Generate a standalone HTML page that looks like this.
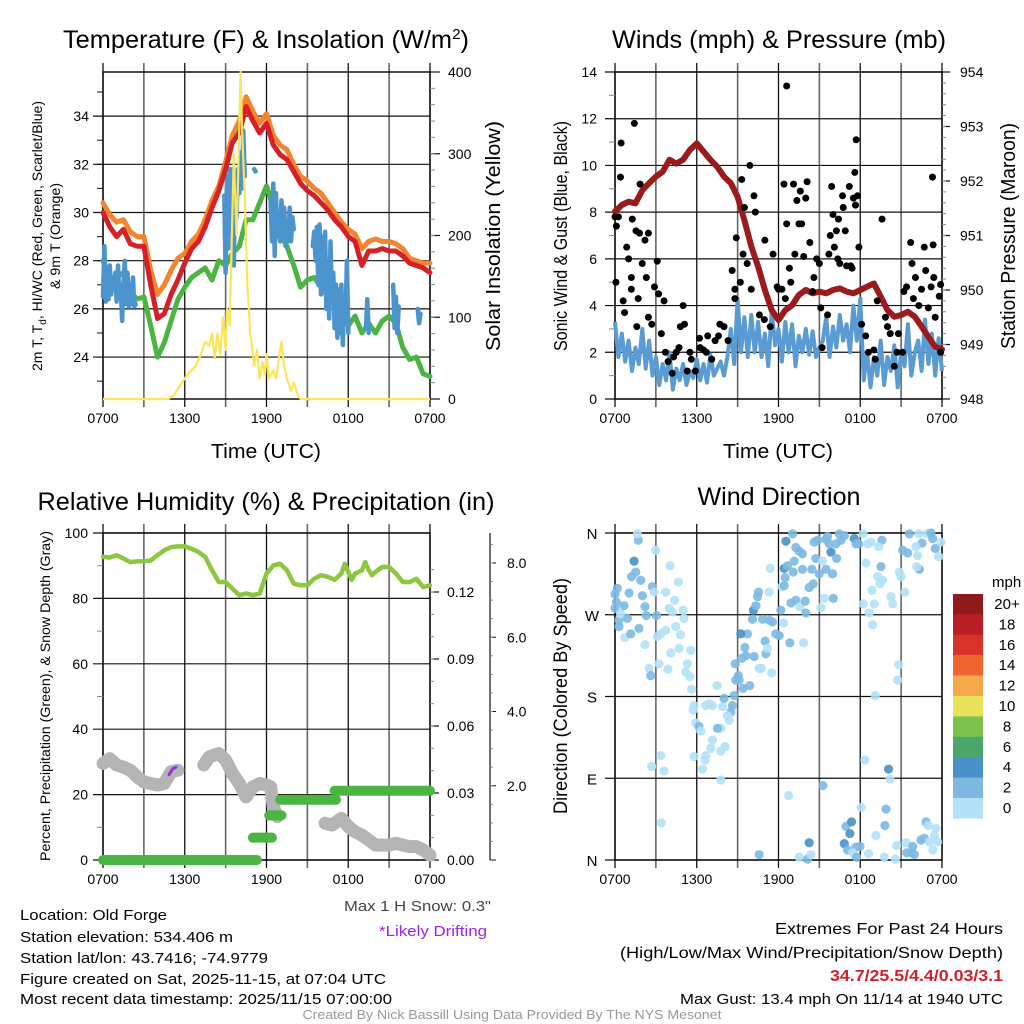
<!DOCTYPE html>
<html><head><meta charset="utf-8">
<style>
html,body{margin:0;padding:0;background:#fff;}
svg{display:block;font-family:"Liberation Sans",Arial,sans-serif;}
</style></head>
<body>
<svg id="chart" xmlns="http://www.w3.org/2000/svg" width="1024" height="1024" viewBox="0 0 1024 1024">
<rect x="0" y="0" width="1024" height="1024" fill="#fff"/>
<g id="layer"></g>
<text x="266" y="48" font-size="25" text-anchor="middle" textLength="406" lengthAdjust="spacingAndGlyphs">Temperature (F) &amp; Insolation (W/m<tspan dy="-9" font-size="15">2</tspan><tspan dy="9">)</tspan></text>
<text x="779" y="48" font-size="25" text-anchor="middle" textLength="334" lengthAdjust="spacingAndGlyphs">Winds (mph) &amp; Pressure (mb)</text>
<text x="266" y="510" font-size="25" text-anchor="middle" textLength="457" lengthAdjust="spacingAndGlyphs">Relative Humidity (%) &amp; Precipitation (in)</text>
<text x="779" y="505" font-size="25" text-anchor="middle" textLength="163" lengthAdjust="spacingAndGlyphs">Wind Direction</text>
<text x="266" y="458" font-size="20" text-anchor="middle" textLength="110" lengthAdjust="spacingAndGlyphs">Time (UTC)</text>
<text x="778" y="458" font-size="20" text-anchor="middle" textLength="110" lengthAdjust="spacingAndGlyphs">Time (UTC)</text>
<text transform="translate(42,236) rotate(-90)" font-size="14" text-anchor="middle" textLength="270" lengthAdjust="spacingAndGlyphs">2m T, T<tspan dy="4" font-size="10">d</tspan><tspan dy="-4">, HI/WC (Red, Green, Scarlet/Blue)</tspan></text>
<text transform="translate(60,236) rotate(-90)" font-size="14" text-anchor="middle" textLength="106" lengthAdjust="spacingAndGlyphs">&amp; 9m T (Orange)</text>
<text transform="translate(500,236) rotate(-90)" font-size="20" text-anchor="middle" textLength="230" lengthAdjust="spacingAndGlyphs">Solar Insolation (Yellow)</text>
<text transform="translate(567,236) rotate(-90)" font-size="18" text-anchor="middle" textLength="230" lengthAdjust="spacingAndGlyphs">Sonic Wind &amp; Gust (Blue, Black)</text>
<text transform="translate(1015,236) rotate(-90)" font-size="20" text-anchor="middle" textLength="226" lengthAdjust="spacingAndGlyphs">Station Pressure (Maroon)</text>
<text transform="translate(50,696) rotate(-90)" font-size="14" text-anchor="middle" textLength="330" lengthAdjust="spacingAndGlyphs">Percent, Precipitation (Green), &amp; Snow Depth (Gray)</text>
<text transform="translate(567,696) rotate(-90)" font-size="19" text-anchor="middle" textLength="236" lengthAdjust="spacingAndGlyphs">Direction (Colored By Speed)</text>
<text x="992" y="587" font-size="15">mph</text>
<text x="491" y="911" font-size="15" fill="#444" text-anchor="end" textLength="147" lengthAdjust="spacingAndGlyphs">Max 1 H Snow: 0.3"</text>
<text x="487" y="936" font-size="15" fill="#a020f0" text-anchor="end" textLength="108" lengthAdjust="spacingAndGlyphs">*Likely Drifting</text>
<text x="20" y="920" font-size="15" textLength="147" lengthAdjust="spacingAndGlyphs">Location: Old Forge</text>
<text x="20" y="942" font-size="15" textLength="213" lengthAdjust="spacingAndGlyphs">Station elevation: 534.406 m</text>
<text x="20" y="963" font-size="15" textLength="248" lengthAdjust="spacingAndGlyphs">Station lat/lon: 43.7416; -74.9779</text>
<text x="20" y="984" font-size="15" textLength="366" lengthAdjust="spacingAndGlyphs">Figure created on Sat, 2025-11-15, at 07:04 UTC</text>
<text x="20" y="1004" font-size="15" textLength="372" lengthAdjust="spacingAndGlyphs">Most recent data timestamp: 2025/11/15 07:00:00</text>
<text x="1003" y="934" font-size="16" text-anchor="end" textLength="228" lengthAdjust="spacingAndGlyphs">Extremes For Past 24 Hours</text>
<text x="1003" y="958" font-size="16" text-anchor="end" textLength="383" lengthAdjust="spacingAndGlyphs">(High/Low/Max Wind/Precipitation/Snow Depth)</text>
<text x="1003" y="981" font-size="16" font-weight="bold" fill="#d0202a" text-anchor="end" textLength="173" lengthAdjust="spacingAndGlyphs">34.7/25.5/4.4/0.03/3.1</text>
<text x="1003" y="1004" font-size="15" text-anchor="end" textLength="323" lengthAdjust="spacingAndGlyphs">Max Gust: 13.4 mph On 11/14 at 1940 UTC</text>
<text x="512" y="1019" font-size="13" fill="#999" text-anchor="middle" textLength="419" lengthAdjust="spacingAndGlyphs">Created By Nick Bassill Using Data Provided By The NYS Mesonet</text>
</svg>
<script>
const timeTickLabels = ["0700","1300","1900","0100","0700"];
const halfHours = [0,0.5,1,1.5,2,2.5,3,3.5,4,4.5,5,5.5,6,6.5,7,7.5,8,8.5,9,9.5,10,10.5,11,11.5,12,12.5,13,13.5,14,14.5,15,15.5,16,16.5,17,17.5,18,18.5,19,19.5,20,20.5,21,21.5,22,22.5,23,23.5,24];
const tempRed = [30.0,29.4,29.0,29.3,28.7,28.6,28.6,27.0,25.6,25.8,26.6,27.2,27.9,28.5,28.8,29.4,30.2,30.9,31.8,32.9,33.3,34.4,33.8,33.3,33.7,32.8,32.4,32.2,31.7,31.2,30.9,30.7,30.4,30.1,29.7,29.4,29.0,28.8,27.8,28.4,28.4,28.5,28.4,28.4,28.2,27.9,27.8,27.7,27.5];
const tempOrange = [30.4,29.9,29.6,29.7,29.2,29.0,29.0,27.6,26.6,27.0,27.6,28.1,28.3,28.8,29.1,29.7,30.5,31.1,32.1,33.2,33.8,34.8,34.2,33.7,34.1,33.2,32.8,32.6,32.0,31.5,31.3,31.0,30.8,30.4,30.0,29.6,29.3,29.1,28.5,28.8,28.9,28.8,28.8,28.7,28.5,28.1,28.0,27.9,27.9];
const dewGreen = [28.0,27.3,27.3,27.5,26.7,26.4,26.5,25.3,24.0,24.6,25.5,26.4,26.9,27.3,27.5,27.7,27.2,28.0,27.8,28.3,28.6,29.7,29.7,30.4,31.1,30.2,29.1,28.6,27.8,26.9,27.2,27.3,26.9,26.5,26.4,26.1,25.3,25.7,25.0,25.4,25.0,25.5,25.7,25.4,24.4,23.9,24.0,23.3,23.2];
const chillTimes = [0,0.1,0.2,0.3,0.4,0.5,0.6,0.7,0.8,0.9,1.0,1.1,1.2,1.3,1.4,1.5,1.6,1.7,1.8,1.9,2.0,2.1,2.2,2.3,2.4,null,8.9,9.0,9.1,9.2,9.3,9.4,9.5,9.6,9.7,9.8,9.9,10.0,10.1,10.2,10.3,10.4,null,11.1,11.2,null,12.3,12.4,12.5,12.6,12.7,12.8,12.9,13.0,13.1,13.2,13.3,13.4,13.5,13.6,13.7,13.8,13.9,14.0,null,15.4,15.5,15.6,15.7,15.8,15.9,16.0,16.1,16.2,16.3,16.4,16.5,16.6,16.7,16.8,16.9,17.0,17.1,17.2,17.3,17.4,17.5,17.6,17.7,17.8,17.9,18.0,null,19.3,19.4,19.5,null,21.3,21.4,21.5,21.6,21.7,null,23.1,23.2,23.3];
const chillBlue = [26.5,28.6,26.3,27.5,26.4,27.8,26.6,27.2,26.9,27.5,26.3,27.8,26.5,27.0,25.5,27.0,28.0,26.2,27.5,26.1,26.2,26.6,27.3,26.1,26.2,null,30.7,27.5,31.5,28.5,31.8,29.0,31.8,27.8,31.5,29.8,31.8,30.8,32.5,31.0,33.4,31.5,null,31.8,31.7,null,30.5,28.8,31.2,28.2,30.8,29.0,29.5,28.8,30.5,29.0,30.2,28.6,29.6,28.8,30.2,28.8,29.8,29.3,null,28.6,29.2,28.0,29.4,27.0,29.5,26.6,29.0,27.0,29.2,26.0,28.0,25.6,28.8,26.3,27.5,25.2,27.0,24.8,26.8,25.0,27.0,24.5,26.5,25.4,28.0,25.0,null,25.2,26.4,25.0,null,27.0,25.2,26.5,25.0,26.1,null,26.0,25.4,25.8];
const solarTimes = [0,4.8,5.2,5.8,6.2,6.8,7.2,7.5,7.8,8.0,8.2,8.4,8.6,8.8,9.0,9.1,9.3,9.4,9.6,9.8,9.9,10.1,10.2,10.4,10.6,10.8,10.9,11.1,11.3,11.5,11.7,11.9,12.0,12.2,12.5,12.7,12.9,13.1,13.3,13.5,13.8,14.0,14.3,14.5,24];
const solarVals = [0,0,5,20,30,40,55,70,65,80,50,80,55,100,60,110,90,160,300,200,260,400,330,250,140,80,70,40,60,25,45,30,55,25,35,25,50,70,40,25,10,20,5,0,0];
const pressTicks = [948,949,950,951,952,953,954];
const windTicks = [0,2,4,6,8,10,12,14];
const pressure = [951.44,951.56,951.62,951.59,951.83,951.96,952.08,952.17,952.39,952.32,952.39,952.57,952.69,952.54,952.39,952.26,952.08,951.96,951.71,951.28,950.80,950.43,950.00,949.63,949.45,949.63,949.72,949.91,950.00,949.94,949.97,949.94,950.00,950.03,949.97,949.94,950.00,950.06,950.12,949.88,949.63,949.51,949.54,949.60,949.51,949.33,949.14,948.96,948.91];
const windSpeed = [3.3,1.8,2.8,1.6,2.5,1.2,2.2,1.5,3.0, 1.3,2.5,1.0,1.8,0.6,1.5,0.8,2.0, 0.4,1.3,0.8,1.5,0.6,1.2,0.9,1.7, 0.8,1.5,0.7,1.9,1.0,1.3,1.6,1.0, 1.8,3.0,1.5,4.3,2.0,3.5,1.8,3.6, 2.0,3.3,1.8,2.8,1.4,3.8,2.3,3.0, 1.6,3.3,2.0,3.2,1.4,2.7,2.0,3.0, 1.9,2.9,1.8,2.2,2.5,3.5,1.8,3.1, 2.2,3.6,2.5,3.2,2.0,4.0,2.5,4.3, 0.8,2.0,0.5,1.8,1.0,2.5,0.6,1.8, 1.2,2.3,0.5,2.0,1.4,3.2,1.0,2.0, 2.5,1.2,3.4,1.5,2.8,1.0,2.6,1.2];
const gustT = [0,0.1,0.25,0.45,0.4,0.07,0.6,0.7,0.86,1.0,1.2,1.2,1.27,1.42,1.54,1.8,1.84,1.7,1.6,2.0,2.2,2.45,2.3,2.45,2.7,2.9,3.1,3.2,3.4,3.6,3.7,3.9,4.2,4.3,4.5,4.7,5.0,4.8,5.1,5.3,5.5,5.6,5.9,6.2,6.25,6.5,6.7,6.8,7.1,7.35,7.6,7.7,8.0,8.3,8.6,8.8,8.8,8.9,9.2,9.3,9.4,9.5,9.7,9.9,10.0,10.2,10.3,10.6,11.0,10.96,11.4,11.6,11.9,12.0,12.25,12.4,12.5,12.6,12.6,12.8,12.9,13.1,13.2,13.35,13.5,13.6,13.7,13.85,14.0,14.1,14.3,14.5,14.6,14.8,15.0,15.1,15.2,15.6,15.7,15.8,15.9,16.0,16.1,16.25,16.35,16.4,16.5,16.7,16.9,16.75,17.0,17.2,17.3,17.4,17.5,17.6,17.7,17.65,17.8,17.9,18.1,18.4,18.6,19.0,19.1,19.25,19.6,19.85,20.0,20.2,20.5,20.7,20.8,21.1,21.2,21.4,21.7,21.8,21.9,22.05,22.3,22.5,22.7,22.8,23.0,23.2,23.3,23.35,23.4,23.5,23.8,23.9,23.9];
const gustV = [7.8,7.4,7.8,10.96,9.5,5.0,4.2,3.7,6.5,6.0,5.2,4.7,7.7,11.8,7.2,7.1,9.2,4.3,3.1,5.8,6.8,7.1,5.2,3.5,3.2,4.8,5.9,4.5,2.8,4.2,2.0,1.6,1.1,1.8,2.0,2.2,4.0,3.1,3.2,1.2,2.0,1.7,1.2,2.6,2.2,2.1,2.0,2.7,1.7,2.5,2.7,3.2,3.1,2.5,5.5,4.7,4.3,6.9,5.0,9.4,6.2,8.2,5.8,10.0,4.7,8.7,8.0,3.6,6.8,3.4,3.1,6.2,4.8,4.7,4.7,9.2,4.3,13.4,7.5,5.6,5.0,9.2,6.2,8.5,7.5,8.9,7.5,6.1,8.6,9.3,6.7,4.6,5.2,6.0,5.8,3.9,2.2,3.6,6.2,7.0,9.1,7.9,6.5,7.2,6.0,7.7,5.8,8.7,7.2,8.2,5.7,9.1,5.7,5.6,8.6,9.7,11.1,8.3,8.7,6.5,3.2,2.7,2.0,2.1,1.7,4.2,7.7,3.5,3.1,2.8,1.4,2.0,2.8,2.0,4.6,4.8,6.7,5.8,4.3,5.2,4.0,4.7,6.5,5.5,3.9,4.8,9.5,6.6,5.2,3.5,4.4,4.9,2.0];
const rhTicks = [0,20,40,60,80,100];
const precipTicks = ["0.00","0.03","0.06","0.09","0.12"];
const snowTicks = ["2.0","4.0","6.0","8.0"];
const rhTimes = [0,0.5,1,1.5,2,2.5,3,3.5,4,4.5,5,5.5,6,6.5,7,7.5,8,8.5,9,9.5,10,10.5,11,11.5,12,12.5,13,13.5,14,14.5,15,15.5,16,16.5,17,17.5,17.75,18,18.25,18.5,19,19.25,19.5,19.75,20,20.5,21,21.5,22,22.5,23,23.5,24];
const rhVals = [92.7,92.5,93.2,92.2,91.1,91.3,91.4,91.6,93.2,94.7,95.7,95.9,95.9,95.2,94.2,92.7,88.6,85.0,85.0,83.0,81.0,81.5,81.0,81.5,87.6,90.1,90.6,88.6,84.5,84.0,84.0,86.0,87.1,86.6,85.7,87.6,90.6,88.1,85.7,87.6,88.6,91.1,88.6,87.1,88.1,89.6,89.6,87.6,85.0,85.0,86.0,83.5,84.0];
const precipStart = [0,11.0,12.2,13.0,17.0];
const precipEnd = [11.3,12.4,13.1,17.1,24];
const precipVals = [0,0.01,0.02,0.027,0.031];
const snowTimes = [0,0.5,1,1.5,2,2.5,3,3.5,4,4.5,5,5.5,null,7.4,7.8,8.5,9,9.5,10,10.5,11,11.5,12,12.3,12.5,12.8,null,16.3,16.8,17.5,18,18.5,19,19.5,20,21,21.5,22,22.5,23,23.5,24];
const snowVals = [2.6,2.73,2.56,2.5,2.42,2.24,2.1,2.06,2.02,2.06,2.38,2.42,null,2.56,2.78,2.87,2.69,2.33,2.06,1.7,1.97,2.06,2.02,1.97,1.43,1.17,null,0.99,0.94,1.12,0.9,0.76,0.67,0.54,0.40,0.40,0.45,0.40,0.36,0.36,0.27,0.13];
const driftTimes = [4.85,5.1,5.35];
const driftVals = [2.3,2.45,2.5];
const dirTickLabels = ["N","E","S","W","N"];
const dirT = [0.0,0.17,0.0,0.1,0.29,0.42,0.66,0.29,0.73,0.91,1.03,1.22,1.40,1.52,1.71,1.64,1.89,2.01,2.2,2.3,1.76,1.15,2.2,2.74,2.87,2.99,3.04,3.11,2.5,2.62,3.23,3.36,2.69,3.6,3.4,3.72,4.04,4.65,4.38,3.97,4.21,4.46,3.72,3.36,4.09,3.89,4.8,5.0,5.07,4.7,5.56,5.31,5.19,5.49,5.63,5.8,5.73,5.93,6.17,6.29,6.66,6.91,7.15,7.49,7.89,8.01,7.76,7.52,7.15,7.03,6.66,6.61,6.42,5.8,7.76,8.08,7.76,8.5,8.62,8.74,8.25,8.38,8.82,9.06,9.11,8.87,9.4,9.89,9.31,9.53,9.6,9.72,9.23,10.21,10.58,10.75,11.02,11.07,11.19,11.49,10.09,10.16,10.34,10.46,10.53,10.83,11.32,11.56,11.8,12.05,12.37,11.32,11.39,12.17,12.25,12.42,12.49,12.42,12.66,12.54,13.03,13.15,13.27,13.52,13.76,13.08,12.91,13.27,13.57,13.96,14.01,12.83,13.84,13.76,14.45,14.25,14.55,14.99,14.74,14.62,14.87,15.48,15.6,15.85,15.97,15.48,15.36,15.11,15.23,15.72,16.02,16.26,16.21,16.46,16.58,16.83,17.56,17.68,17.88,18.22,18.54,18.78,19.59,19.35,18.42,19.52,19.28,19.64,19.45,18.86,19.03,18.22,18.66,18.91,20.25,20.38,20.87,20.99,21.28,21.11,21.48,21.6,22.29,22.53,22.09,22.21,22.34,22.14,22.88,23.19,23.32,23.51,23.76,23.93,20.82,20.74,19.1,18.34,20.08,20.18,15.26,12.74,18.07,19.89,16.95,17.36,17.24,16.83,17.68,17.98,19.15,19.81,14.25,13.52,14.13,14.38,10.58,17.07,17.44,17.73,18.61,19.76,20.57,20.67,21.36,21.41,21.8,21.97,21.85,22.46,22.7,23.07,22.83,23.0,23.56,23.44,23.68,23.32];
const dirD = [293,299,277,284,264,271,280,257,245,266,294,312,329,317,352,359,308,291,279,269,255,249,237,301,295,341,269,246,211,203,216,115,103,98,41,295,324,306,286,277,273,257,253,249,228,210,248,275,266,233,231,216,207,202,188,170,165,151,147,142,170,172,170,192,169,178,145,145,132,123,115,110,100,114,120,125,88,163,170,181,159,154,216,203,198,198,189,192,222,234,225,249,249,224,211,211,241,227,233,206,265,275,280,290,295,265,264,262,249,247,261,295,321,275,301,302,311,321,324,351,359,329,344,340,337,317,283,286,279,285,272,239,239,320,320,300,304,315,332,350,352,353,356,339,315,320,288,278,329,348,288,332,348,359,352,357,354,348,348,359,348,350,352,345,327,323,312,308,304,297,282,282,272,259,290,282,317,312,295,341,338,359,359,349,345,335,320,323,359,360,354,343,334,350,215,198,181,110,100,89,82,71,58,56,37,42,29,18,14,15,27,38,19,3,1,6,6,11,8,3,7,3,1,16,19,8,8,6,15,22,24,20,42,38,35,27,20,11];
const dirS = [2.5,2.5,2.5,2.5,2.5,0.5,2.5,2.5,0.5,2.5,2.5,2.5,4.5,2.5,2.5,0.5,2.5,2.5,2.5,2.5,2.5,2.5,0.5,2.5,0.5,0.5,2.5,0.5,0.5,2.5,0.5,0.5,0.5,0.5,0.5,0.5,0.5,0.5,0.5,0.5,0.5,0.5,0.5,0.5,0.5,0.5,0.5,0.5,0.5,0.5,0.5,0.5,0.5,0.5,0.5,0.5,0.5,0.5,2.5,0.5,0.5,0.5,0.5,0.5,0.5,2.5,0.5,2.5,0.5,0.5,0.5,0.5,0.5,0.5,0.5,0.5,0.5,2.5,2.5,2.5,0.5,0.5,2.5,2.5,2.5,2.5,2.5,2.5,2.5,2.5,2.5,2.5,4.5,2.5,0.5,0.5,2.5,2.5,0.5,0.5,2.5,4.5,2.5,2.5,2.5,2.5,2.5,2.5,2.5,2.5,0.5,0.5,0.5,2.5,0.5,2.5,2.5,4.5,2.5,4.5,2.5,2.5,2.5,2.5,2.5,2.5,2.5,2.5,0.5,2.5,2.5,2.5,0.5,2.5,2.5,2.5,2.5,2.5,2.5,2.5,2.5,2.5,2.5,4.5,2.5,2.5,0.5,0.5,0.5,2.5,2.5,2.5,2.5,2.5,2.5,2.5,4.5,2.5,2.5,0.5,0.5,0.5,2.5,0.5,0.5,2.5,0.5,0.5,0.5,0.5,0.5,0.5,0.5,0.5,0.5,0.5,0.5,0.5,0.5,2.5,2.5,2.5,0.5,2.5,0.5,0.5,2.5,0.5,0.5,2.5,2.5,2.5,0.5,0.5,0.5,0.5,0.5,0.5,4.5,0.5,2.5,0.5,0.5,2.5,2.5,4.5,4.5,4.5,2.5,2.5,0.5,2.5,4.5,0.5,2.5,0.5,2.5,2.5,0.5,2.5,0.5,0.5,0.5,0.5,0.5,2.5,2.5,2.5,2.5,2.5,2.5,0.5,2.5,0.5,0.5,0.5,0.5];
const cbLabels = ["20+","18","16","14","12","10","8","6","4","2","0"];
const cbColors = ["#8e1a1c","#bb1f26","#d8332a","#ef6530","#f5a84a","#e8e15a","#7dc24b","#4aa66a","#4a90c8","#7db9e2","#b3e1f7"];

const NS = "http://www.w3.org/2000/svg";
const layer = document.getElementById("layer");
function mk(tag, attrs, name, parent) {
  const el = document.createElementNS(NS, tag);
  for (const k in attrs) el.setAttribute(k, attrs[k]);
  
  
  (parent || layer).appendChild(el);
  return el;
}
function txt(x, y, s, size, anchor, name, extra) {
  const el = mk("text", Object.assign({x: x, y: y, "font-size": size, "text-anchor": anchor}, extra || {}), name);
  el.textContent = s;
  return el;
}
function linear(d0, d1, r0, r1) { return v => r0 + (v - d0) / (d1 - d0) * (r1 - r0); }
function pathFrom(ts, vs, sx, sy) {
  let d = "", pen = false;
  for (let i = 0; i < ts.length; i++) {
    if (ts[i] === null || vs[i] === null || ts[i] === undefined || vs[i] === undefined) { pen = false; continue; }
    d += (pen ? "L" : "M") + sx(ts[i]).toFixed(1) + "," + sy(vs[i]).toFixed(1);
    pen = true;
  }
  return d;
}
function speedColor(s) {
  if (typeof s !== "number" || isNaN(s)) s = 0.5;
  const idx = Math.max(0, Math.min(10, Math.floor(s / 2)));
  return cbColors[10 - idx];
}
function frame(P, prefix) {
  const sx = linear(0, 24, P.x0, P.x1);
  for (let h = 0; h <= 24; h += 3) {
    const major = h % 6 === 0;
    mk("line", {x1: sx(h), x2: sx(h), y1: P.y0 - 9, y2: P.y1 + 8, stroke: major ? "#111" : "#666", "stroke-width": major ? 1.3 : 1.6}, prefix + "-vgrid");
  }
  timeTickLabels.forEach((lab, i) => {
    txt(sx(i * 6), P.y1 + 24, lab, 14, "middle", prefix + "-x-tick-label");
  });
  mk("rect", {x: P.x0, y: P.y0, width: P.x1 - P.x0, height: P.y1 - P.y0, fill: "none", stroke: "#111", "stroke-width": 1.5}, prefix + "-frame");
  return sx;
}
function hgrid(P, y, prefix) {
  mk("line", {x1: P.x0 - 10, x2: P.x1, y1: y, y2: y, stroke: "#111", "stroke-width": 1.2}, prefix + "-hgrid");
}

const P1 = {x0: 103, x1: 430, y0: 72, y1: 399};
const sx1 = frame(P1, "temp");
const sT = linear(22.26, 35.83, P1.y1, P1.y0);
const sSol = linear(0, 400, P1.y1, P1.y0);
for (let v = 24; v <= 34; v += 2) { hgrid(P1, sT(v), "temp"); txt(P1.x0 - 14, sT(v) + 5, String(v), 14, "end", "temp-y-tick-label"); }
for (let v = 23; v <= 35; v += 1) mk("line", {x1: P1.x0 - 6, x2: P1.x0, y1: sT(v), y2: sT(v), stroke: "#111"}, "temp-minor-tick");
for (let v = 0; v <= 400; v += 100) {
  mk("line", {x1: P1.x1, x2: P1.x1 + 10, y1: sSol(v), y2: sSol(v), stroke: "#111", "stroke-width": 1.2}, "solar-major-tick");
  txt(P1.x1 + 18, sSol(v) + 5, String(v), 14, "start", "solar-tick-label");
}
for (let v = 20; v < 400; v += 20) mk("line", {x1: P1.x1, x2: P1.x1 + 5, y1: sSol(v), y2: sSol(v), stroke: "#888"}, "solar-minor-tick");
mk("path", {d: pathFrom(halfHours, dewGreen, sx1, sT), fill: "none", stroke: "#4bb443", "stroke-width": 5, "stroke-linejoin": "round", "stroke-linecap": "round"}, "dewpoint-line");
mk("path", {d: pathFrom(chillTimes, chillBlue, sx1, sT), fill: "none", stroke: "#4b94cd", "stroke-width": 4.5, "stroke-linejoin": "round", "stroke-linecap": "round"}, "wind-chill-line");
mk("path", {d: pathFrom(halfHours, tempOrange, sx1, sT), fill: "none", stroke: "#f4852e", "stroke-width": 5, "stroke-linejoin": "round", "stroke-linecap": "round"}, "temp-9m-line");
mk("path", {d: pathFrom(halfHours, tempRed, sx1, sT), fill: "none", stroke: "#d62027", "stroke-width": 5, "stroke-linejoin": "round", "stroke-linecap": "round"}, "temp-2m-line");
mk("path", {d: pathFrom(solarTimes, solarVals, sx1, sSol), fill: "none", stroke: "#fde559", "stroke-width": 2.2, "stroke-linejoin": "round"}, "solar-insolation-line");

const P2 = {x0: 615, x1: 942, y0: 72, y1: 399};
const sx2 = frame(P2, "wind");
const sW = linear(0, 14, P2.y1, P2.y0);
const sP = linear(948, 954, P2.y1, P2.y0);
windTicks.forEach(v => { hgrid(P2, sW(v), "wind"); txt(P2.x0 - 18, sW(v) + 5, String(v), 14, "end", "wind-y-tick-label"); });
for (let v = 1; v < 14; v += 2) mk("line", {x1: P2.x0 - 6, x2: P2.x0, y1: sW(v), y2: sW(v), stroke: "#888"}, "wind-minor-tick");
pressTicks.forEach(v => {
  mk("line", {x1: P2.x1, x2: P2.x1 + 8, y1: sP(v), y2: sP(v), stroke: "#111", "stroke-width": 1.2}, "pressure-major-tick");
  txt(P2.x1 + 18, sP(v) + 5, String(v), 14, "start", "pressure-tick-label");
});
for (let v = 948.2; v < 954; v += 0.2) mk("line", {x1: P2.x1, x2: P2.x1 + 4, y1: sP(v), y2: sP(v), stroke: "#888"}, "pressure-minor-tick");
const windTimes = windSpeed.map((_, i) => i * 0.25);
mk("path", {d: pathFrom(windTimes, windSpeed, sx2, sW), fill: "none", stroke: "#5a9bd3", "stroke-width": 4, "stroke-linejoin": "round"}, "sonic-wind-line");
mk("path", {d: pathFrom(halfHours, pressure, sx2, sP), fill: "none", stroke: "#9b1a1c", "stroke-width": 6, "stroke-linejoin": "round", "stroke-linecap": "round"}, "pressure-line");
const nG = Math.min(gustT.length, gustV.length);
for (let i = 0; i < nG; i++) {
  mk("circle", {cx: sx2(gustT[i]), cy: sW(gustV[i]), r: 3.5, fill: "#000"}, "gust-point");
}

const P3 = {x0: 103, x1: 430, y0: 533, y1: 860};
const sx3 = frame(P3, "rh");
const sRH = linear(0, 100, P3.y1, P3.y0);
const sPr = linear(0, 0.12, P3.y1, 592);
const sSn = linear(0, 8, P3.y1, 563);
rhTicks.forEach(v => { hgrid(P3, sRH(v), "rh"); txt(P3.x0 - 15, sRH(v) + 5, String(v), 14, "end", "rh-y-tick-label"); });
for (let v = 10; v < 100; v += 20) mk("line", {x1: P3.x0 - 6, x2: P3.x0, y1: sRH(v), y2: sRH(v), stroke: "#888"}, "rh-minor-tick");
precipTicks.forEach(s => {
  const v = parseFloat(s);
  mk("line", {x1: P3.x1, x2: P3.x1 + 9, y1: sPr(v), y2: sPr(v), stroke: "#111", "stroke-width": 1.2}, "precip-major-tick");
  txt(P3.x1 + 17, sPr(v) + 5, s, 14, "start", "precip-tick-label");
});
for (let v = 0.01; v < 0.13; v += 0.01) mk("line", {x1: P3.x1, x2: P3.x1 + 4, y1: sPr(v), y2: sPr(v), stroke: "#888"}, "precip-minor-tick");
mk("line", {x1: 490, x2: 490, y1: 533, y2: 860, stroke: "#111", "stroke-width": 1.2}, "snow-axis-line");
mk("line", {x1: 490, x2: 496, y1: sSn(0), y2: sSn(0), stroke: "#111"}, "snow-major-tick");
snowTicks.forEach(s => {
  const v = parseFloat(s);
  mk("line", {x1: 490, x2: 496, y1: sSn(v), y2: sSn(v), stroke: "#111"}, "snow-major-tick");
  txt(507, sSn(v) + 5, s, 14, "start", "snow-tick-label");
});
for (let v = 0.5; v < 8.6; v += 0.5) mk("line", {x1: 490, x2: 493, y1: sSn(v), y2: sSn(v), stroke: "#888"}, "snow-minor-tick");
mk("path", {d: pathFrom(snowTimes, snowVals, sx3, sSn), fill: "none", stroke: "#b4b4b4", "stroke-width": 13, "stroke-linejoin": "round", "stroke-linecap": "round"}, "snow-depth-line");
mk("path", {d: pathFrom(driftTimes, driftVals, sx3, sSn), fill: "none", stroke: "#9b30e0", "stroke-width": 3, "stroke-linecap": "round"}, "drifting-snow-segment");
precipVals.forEach((v, i) => {
  mk("line", {x1: sx3(precipStart[i]), x2: sx3(precipEnd[i]), y1: sPr(v), y2: sPr(v), stroke: "#4bb543", "stroke-width": 10, "stroke-linecap": "round"}, "precip-step");
});
mk("path", {d: pathFrom(rhTimes, rhVals, sx3, sRH), fill: "none", stroke: "#8dc63f", "stroke-width": 4.5, "stroke-linejoin": "round", "stroke-linecap": "round"}, "relative-humidity-line");

const P4 = {x0: 615, x1: 942, y0: 533, y1: 860};
const sx4 = frame(P4, "dir");
const sD = linear(0, 360, P4.y1, P4.y0);
dirTickLabels.forEach((lab, i) => {
  hgrid(P4, sD(i * 90), "dir");
  txt(P4.x0 - 23, sD(i * 90) + 6, lab, 15, "middle", "dir-y-tick-label");
});
const nD = Math.min(dirT.length, dirD.length);
for (let i = 0; i < nD; i++) {
  mk("circle", {cx: sx4(dirT[i]), cy: sD(dirD[i]), r: 4.6, fill: speedColor(dirS[i]), "fill-opacity": 0.9}, "direction-point");
}
cbColors.forEach((c, i) => {
  mk("rect", {x: 953, y: 594 + i * 20.4, width: 30, height: 20.6, fill: c}, "colorbar-swatch");
  txt(1007, 594 + i * 20.4 + 15, cbLabels[i], 15, "middle", "colorbar-label");
});
</script>
</body></html>
